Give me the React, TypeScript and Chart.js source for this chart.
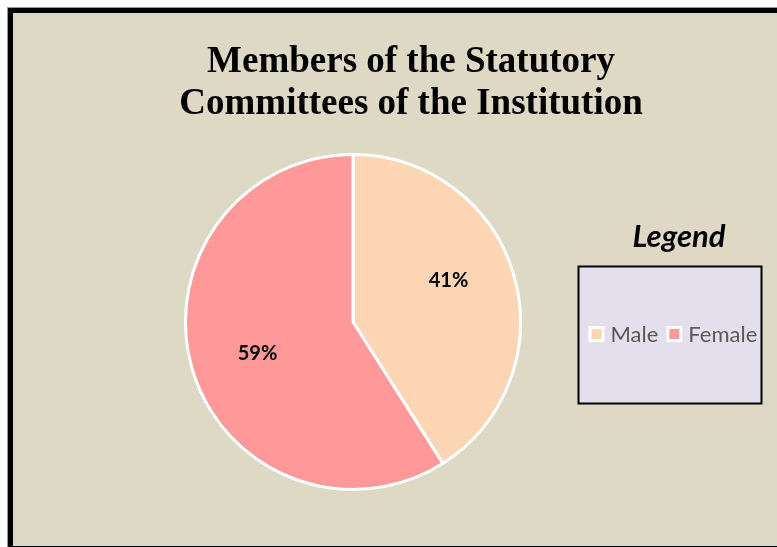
import React, { useEffect, useRef } from "react";
import { Chart, registerables } from "chart.js";

Chart.register(...registerables);

const categories = ["Male", "Female"];
const shares = [41, 59];
const sliceColors = ["#FCD5B4", "#FF9999"];
const titleLines = ["Members of the Statutory", "Committees of the Institution"];
const legendTitle = "Legend";

const CANVAS_W = 782;
const CANVAS_H = 533;

const overlayPlugin = {
  id: "overlay",
  afterDraw(chart: any) {
    const ctx = chart.ctx as CanvasRenderingContext2D;
    ctx.save();
    // title
    ctx.fillStyle = "#000";
    ctx.textAlign = "center";
    ctx.textBaseline = "alphabetic";
    ctx.font = "bold 37px 'Liberation Serif', 'Times New Roman', serif";
    ctx.fillText(titleLines[0], 398, 59);
    ctx.fillText(titleLines[1], 398, 100.5);

    // data labels
    const meta = chart.getDatasetMeta(0);
    const total = shares.reduce((a, b) => a + b, 0);
    ctx.font = "bold 20px Lato, 'Open Sans', sans-serif";
    ctx.textBaseline = "middle";
    meta.data.forEach((arc: any, i: number) => {
      const p = arc.getProps(["x", "y", "startAngle", "endAngle", "outerRadius"], true);
      const mid = (p.startAngle + p.endAngle) / 2 - 0.08;
      const r = p.outerRadius * 0.61;
      const tx = p.x + Math.cos(mid) * r;
      const ty = p.y + Math.sin(mid) * r - 5;
      ctx.fillText(Math.round((shares[i] / total) * 100) + "%", tx, ty);
    });

    // legend title
    ctx.font = "italic bold 31px Lato, 'Open Sans', sans-serif";
    ctx.textBaseline = "alphabetic";
    ctx.fillText(legendTitle, 666, 234);

    // legend box
    const bx = 565.5, by = 253.5, bw = 183, bh = 137;
    ctx.fillStyle = "#E4DFEC";
    ctx.fillRect(bx, by, bw, bh);
    ctx.strokeStyle = "#000";
    ctx.lineWidth = 2;
    ctx.strokeRect(bx, by, bw, bh);

    // legend items
    ctx.font = "22px Lato, 'Open Sans', sans-serif";
    ctx.textAlign = "left";
    ctx.textBaseline = "middle";
    const itemY = 321;
    let x = 575.5;
    categories.forEach((c, i) => {
      ctx.fillStyle = "#FFFFFF";
      ctx.fillRect(x, itemY - 8, 16, 16);
      ctx.fillStyle = sliceColors[i];
      ctx.fillRect(x + 3, itemY - 5, 10, 10);
      ctx.fillStyle = "#595959";
      ctx.fillText(c, x + 22, itemY + 1);
      x += 22 + ctx.measureText(c).width + 8;
    });
    ctx.restore();
  },
};

export default function App() {
  const ref = useRef<HTMLCanvasElement | null>(null);
  useEffect(() => {
    const prevMargin = document.body.style.margin;
    document.body.style.margin = "0";
    if (!ref.current) return;
    const chart = new Chart(ref.current, {
      type: "pie",
      data: {
        labels: categories,
        datasets: [
          {
            data: shares,
            backgroundColor: sliceColors,
            borderColor: "#FFFFFF",
            borderWidth: 3,
          },
        ],
      },
      options: {
        animation: false,
        responsive: false,
        maintainAspectRatio: false,
        layout: { padding: { top: 140, bottom: 55, left: 170, right: CANVAS_W - 510 } },
        plugins: {
          legend: { display: false },
          title: { display: false },
          tooltip: { enabled: false },
        },
      },
      plugins: [overlayPlugin],
    });
    return () => {
      chart.destroy();
      document.body.style.margin = prevMargin;
    };
  }, []);

  return (
    <div
      style={{
        width: 777,
        height: 547,
        overflow: "hidden",
        position: "relative",
        background: "#FFFFFF",
      }}
    >
      <div
        style={{
          position: "absolute",
          left: 8,
          top: 8,
          width: CANVAS_W,
          height: CANVAS_H,
          border: "5px solid #000",
          outline: "1px solid #999",
          background: "#DDD9C4",
        }}
      >
        <canvas ref={ref} width={CANVAS_W} height={CANVAS_H} style={{ display: "block" }} />
      </div>
    </div>
  );
}
